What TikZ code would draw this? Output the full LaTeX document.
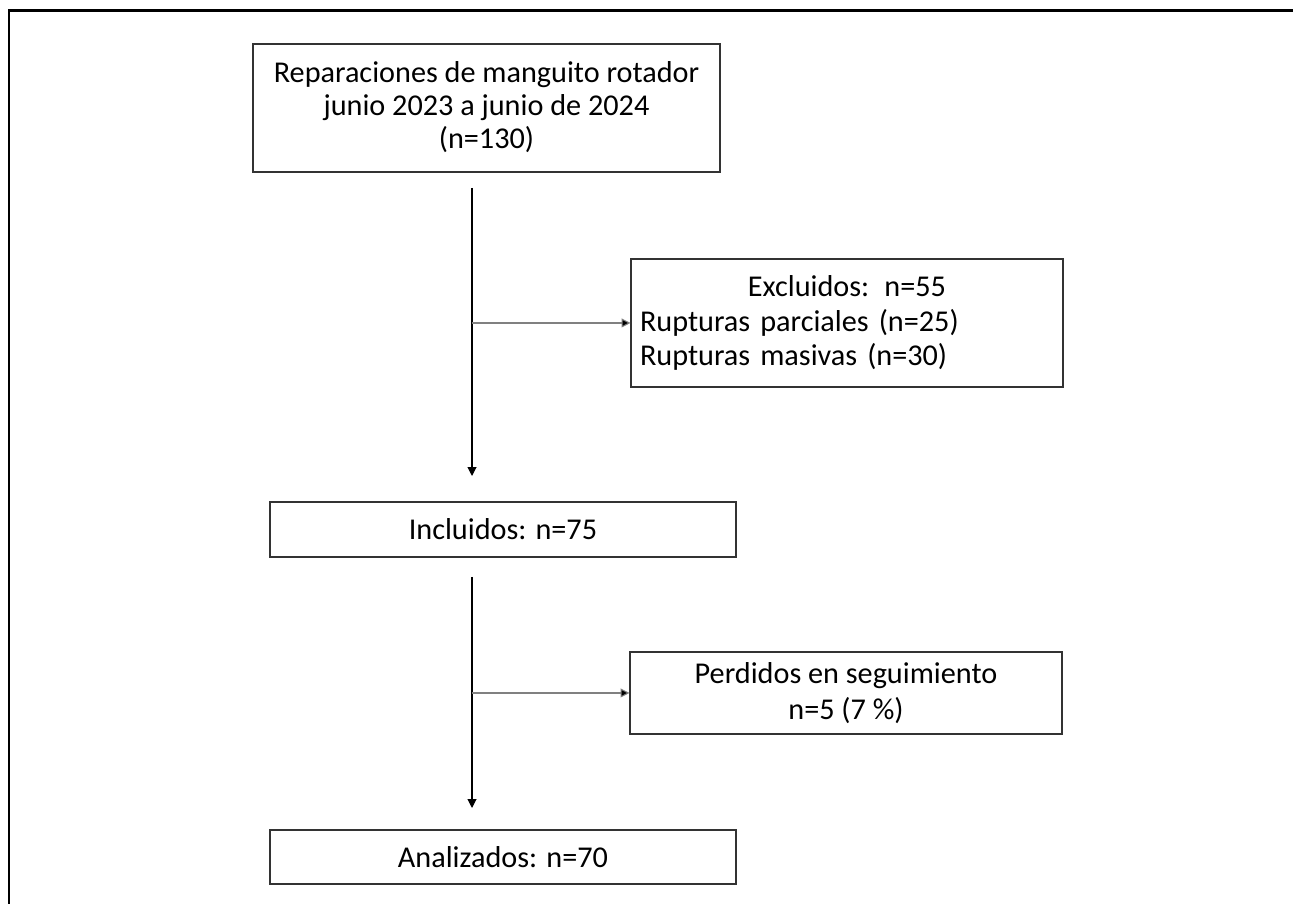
\documentclass[tikz,border=0pt]{standalone}
\usepackage{fontspec}
\setmainfont{Carlito}
\usepackage{tikz}
\usetikzlibrary{arrows.meta}

\begin{document}
\begin{tikzpicture}[
    flowbox/.style={draw=black!80, line width=0.6pt, align=center, inner sep=0pt,
                    font=\fontsize{17.2}{19}\selectfont},
    flow/.style={line width=0.6pt, -{Triangle[length=5pt,width=5pt]}},
    side/.style={flow, draw=black!50, -{Triangle[length=5pt,width=5pt,fill=black]}}
]
\useasboundingbox (0,0) rectangle (25.86,18.08);
\draw[line width=1.7pt] (0.18,0) |- (25.86,17.86);

\node[flowbox, minimum width=9.34cm, minimum height=2.56cm, text depth=0.12cm] (total) at (9.73,15.92)
    {Reparaciones de manguito rotador\\junio 2023 a junio de 2024\\(n=130)};
\node[flowbox, text width=8.28cm, minimum height=2.56cm, inner xsep=0.18cm, align=left,
      font=\fontsize{17.2}{19.8}\selectfont] (excl) at (16.94,11.62)
    {\makebox[\linewidth]{Excluidos: n=55}\\Rupturas parciales (n=25)\\Rupturas masivas (n=30)};
\node[flowbox, minimum width=9.32cm, minimum height=1.1cm] (incl) at (10.06,7.49) {Incluidos: n=75};
\node[flowbox, minimum width=8.64cm, minimum height=1.64cm, font=\fontsize{17.2}{20.4}\selectfont] (lost) at (16.92,4.22)
    {Perdidos en seguimiento\\n=5 (7~\%)};
\node[flowbox, minimum width=9.32cm, minimum height=1.08cm] (anal) at (10.06,0.94) {Analizados: n=70};

% spine
\coordinate (top1) at (9.44,14.32);
\coordinate (end1) at (9.44,8.56);
\coordinate (top2) at (9.44,6.54);
\coordinate (end2) at (9.44,1.92);

\draw[flow] (top1) -- (end1);
\draw[side] (top1 |- excl.west) -- (excl.west);
\draw[flow] (top2) -- (end2);
\draw[side] (top2 |- lost.west) -- (lost.west);
\end{tikzpicture}
\end{document}
